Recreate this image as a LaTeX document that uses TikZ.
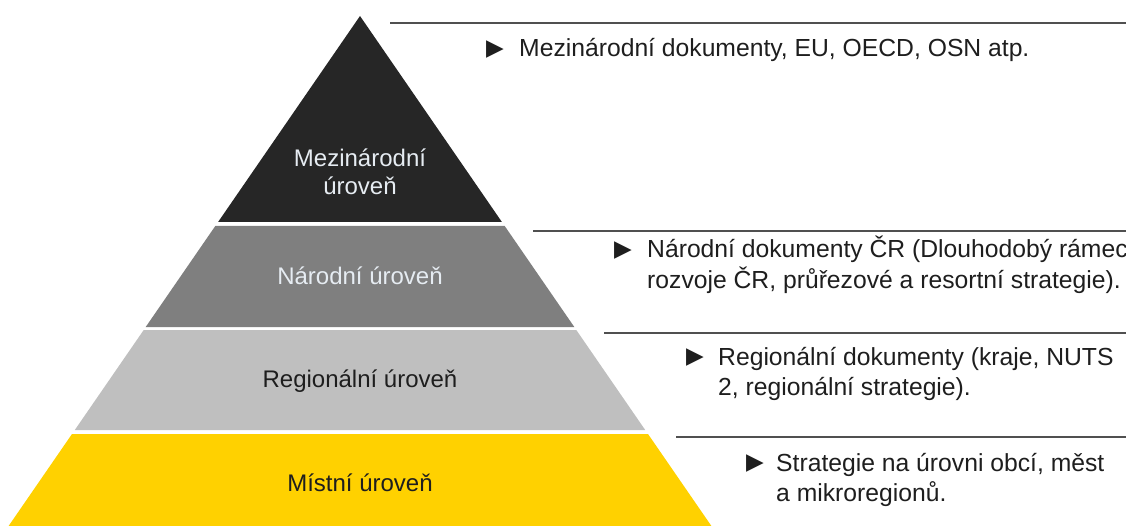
\documentclass[tikz,border=0pt]{standalone}
\usepackage{fontspec}
\setmainfont{Liberation Sans}
\newfontfamily\symfont{DejaVu Sans}
\definecolor{lay1}{HTML}{262626}
\definecolor{lay2}{HTML}{7F7F7F}
\definecolor{lay3}{HTML}{BFBFBF}
\definecolor{lay4}{HTML}{FFD100}
\definecolor{lighttxt}{HTML}{E6ECF2}
\definecolor{darktxt}{HTML}{1E1E1E}
\definecolor{rulecol}{HTML}{505050}
\begin{document}
\begin{tikzpicture}[x=1pt,y=-1pt,
  lbl/.style={inner sep=0pt,anchor=base,font=\fontsize{24}{28}\selectfont},
  desc/.style={inner sep=0pt,anchor=base west,text=darktxt,font=\fontsize{24.7}{30}\selectfont},
  bul/.style={inner sep=0pt,anchor=base west,text=darktxt,font=\symfont\fontsize{23}{30}\selectfont},
  rulel/.style={draw=rulecol,line width=1.3pt}]
\useasboundingbox (0,0) rectangle (1126,526);
% pyramid layers
\fill[lay1] (360,16) -- (501.9,222) -- (218.1,222) -- cycle;
\fill[lay2] (215.3,226) -- (504.7,226) -- (574.3,327) -- (145.7,327) -- cycle;
\fill[lay3] (143.7,330) -- (576.3,330) -- (645.2,430) -- (74.8,430) -- cycle;
\fill[lay4] (72.0,434) -- (648.0,434) -- (711.4,526) -- (8.6,526) -- cycle;
% labels
\node[lbl,text=lighttxt] (l1) at (360,167) {\begin{tabular}[t]{@{}c@{}}Mezinárodní\\úroveň\end{tabular}};
\node[lbl,text=lighttxt] (l2) at (360,285) {Národní úroveň};
\node[lbl,text=darktxt] (l3) at (360,387) {Regionální úroveň};
\node[lbl,text=darktxt] (l4) at (360,491) {Místní úroveň};
% separator rules
\coordinate (r1a) at (390,23);  \coordinate (r1b) at (1126,23);
\coordinate (r2a) at (533,231); \coordinate (r2b) at (1126,231);
\coordinate (r3a) at (604,333); \coordinate (r3b) at (1126,333);
\coordinate (r4a) at (676,437); \coordinate (r4b) at (1126,437);
\draw[rulel] (r1a) -- (r1b);
\draw[rulel] (r2a) -- (r2b);
\draw[rulel] (r3a) -- (r3b);
\draw[rulel] (r4a) -- (r4b);
% descriptions
\node[bul] (b1) at (486,55.5) {▶};
\node[desc] (d1) at (519,57) {Mezinárodní dokumenty, EU, OECD, OSN atp.};
\node[bul] (b2) at (614,256.5) {▶};
\node[desc] (d2) at (647,258) {\begin{tabular}[t]{@{}l@{}}Národní dokumenty ČR (Dlouhodobý rámec\\rozvoje ČR, průřezové a resortní strategie).\end{tabular}};
\node[bul] (b3) at (686,363.5) {▶};
\node[desc] (d3) at (718,365) {\begin{tabular}[t]{@{}l@{}}Regionální dokumenty (kraje, NUTS\\2, regionální strategie).\end{tabular}};
\node[bul] (b4) at (746,469.5) {▶};
\node[desc] (d4) at (776,471) {\begin{tabular}[t]{@{}l@{}}Strategie na úrovni obcí, měst\\a mikroregionů.\end{tabular}};
\end{tikzpicture}
\end{document}
